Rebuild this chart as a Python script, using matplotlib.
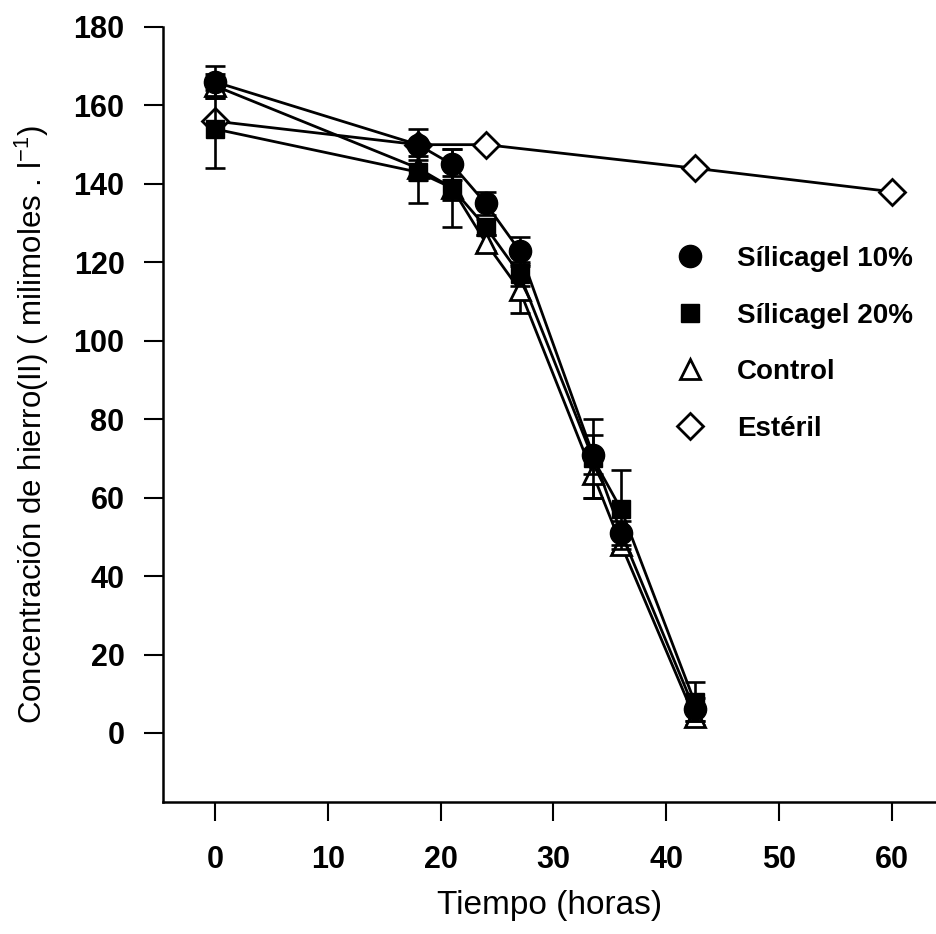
import matplotlib
matplotlib.use("Agg")
import matplotlib.pyplot as plt
from matplotlib.lines import Line2D

plt.rcParams['font.family'] = ['Liberation Sans', 'DejaVu Sans']

t_sil10 = [0, 18, 21, 24, 27, 33.5, 36, 42.5]
y_sil10 = [166, 150, 145, 135, 123, 71, 51, 6]
e_sil10 = [4, 4, 4, 3, 3.5, 5, 3, 3]

t_sil20 = [0, 18, 21, 24, 27, 33.5, 36, 42.5]
y_sil20 = [154, 143, 139, 129, 117, 70, 57, 8]
e_sil20 = [10, 8, 10, 2, 3, 10, 10, 5]

t_ctrl = [0, 18, 21, 24, 27, 33.5, 36, 42.5]
y_ctrl = [165, 144, 139, 125, 113, 66, 48, 4]
e_ctrl = [3, 3, 3, 2, 6, 6, 2, 2]

t_est = [0, 18, 24, 42.5, 60]
y_est = [156, 150, 150, 144, 138]

labels = ['Sílicagel 10%', 'Sílicagel 20%', 'Control', 'Estéril']
xticks = [0, 10, 20, 30, 40, 50, 60]
yticks = [0, 20, 40, 60, 80, 100, 120, 140, 160, 180]

W, H = 936, 934
fig = plt.figure(figsize=(W/100, H/100), dpi=100)
ax = fig.add_axes([163/W, 1-802/H, 1-163/W, (802-27)/H])

lw = 2.0
ekw = dict(ecolor='black', elinewidth=1.9, capsize=7.5, capthick=1.9)

ax.errorbar(t_est, y_est, fmt='-', marker='D', color='black', mfc='white', mec='black',
            ms=13, mew=2.0, lw=lw, zorder=2)
ax.errorbar(t_ctrl, y_ctrl, yerr=e_ctrl, fmt='-', marker='^', color='black', mfc='white',
            mec='black', ms=14, mew=2.0, lw=lw, zorder=3, **ekw)
ax.errorbar(t_sil20, y_sil20, yerr=e_sil20, fmt='-', marker='s', color='black', mfc='black',
            mec='black', ms=13.5, lw=lw, zorder=4, **ekw)
ax.errorbar(t_sil10, y_sil10, yerr=e_sil10, fmt='-', marker='o', color='black', mfc='black',
            mec='black', ms=16, lw=lw, zorder=5, **ekw)

ax.set_xlim(-4.6, 63.9)
ax.set_ylim(-17.6, 180)
ax.spines['top'].set_visible(False)
ax.spines['right'].set_visible(False)
for s in ['left', 'bottom']:
    ax.spines[s].set_linewidth(1.8)
ax.set_xticks(xticks)
ax.set_yticks(yticks)
ax.tick_params(axis='both', direction='out', length=13.7, width=1.5, labelsize=22)
ax.tick_params(axis='x', pad=17)
ax.tick_params(axis='y', pad=14)
for lab in ax.get_xticklabels() + ax.get_yticklabels():
    lab.set_fontweight('bold')
ax.set_xlabel('Tiempo (horas)', fontsize=24, labelpad=11)
ax.set_ylabel(r'Concentración de hierro(II) ( milimoles . l$^{\mathregular{-1}}$)',
              fontsize=22.5, labelpad=17)
ax.yaxis.set_label_coords(-0.145, 0.487)

handles = [
    Line2D([], [], ls='none', marker='o', mfc='black', mec='black', ms=16),
    Line2D([], [], ls='none', marker='s', mfc='black', mec='black', ms=13.5),
    Line2D([], [], ls='none', marker='^', mfc='white', mec='black', ms=14, mew=2.0),
    Line2D([], [], ls='none', marker='D', mfc='white', mec='black', ms=13, mew=2.0),
]
fig.legend(handles, labels, loc='upper left', bbox_to_anchor=(662/W, 1-246/H),
           bbox_transform=fig.transFigure, frameon=False,
           prop={'size': 20, 'weight': 'bold'}, labelspacing=1.1,
           handlelength=2.0, handletextpad=0.7, borderpad=0, borderaxespad=0)

fig.savefig('out.png', dpi=100)
